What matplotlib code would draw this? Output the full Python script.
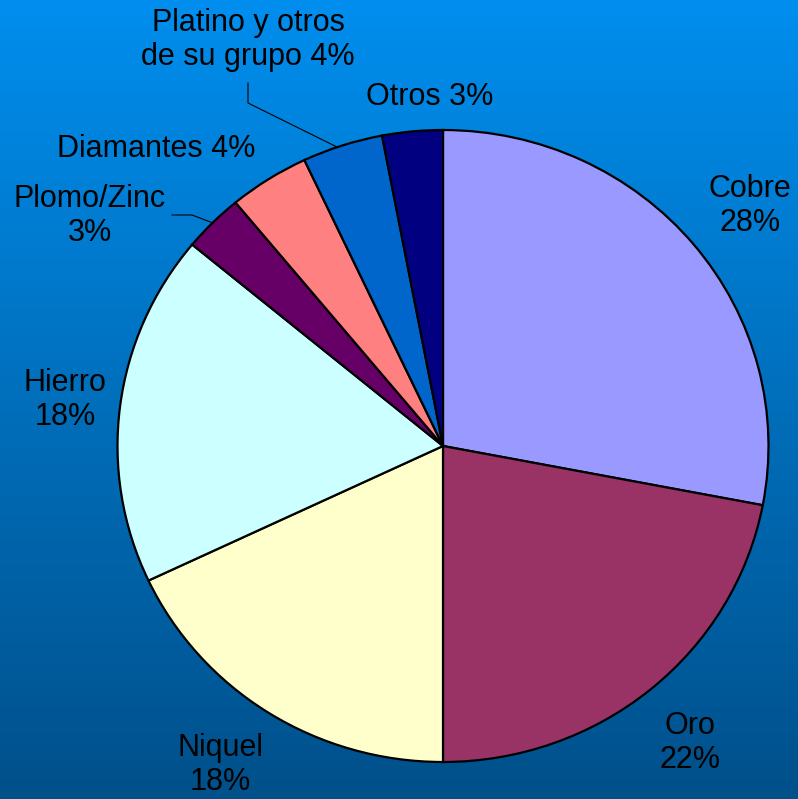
import matplotlib.pyplot as plt
import numpy as np

labels = ["Cobre\n28%", "Oro\n22%", "Niquel\n18%", "Hierro\n18%",
          "Plomo/Zinc\n3%", "Diamantes 4%", "Platino y otros\nde su grupo 4%", "Otros 3%"]
values = [28, 22, 18, 18, 3, 4, 4, 3]
colors = ["#9999FF", "#993366", "#FFFFCC", "#CCFFFF", "#660066", "#FF8080", "#0066CC", "#000080"]

# label centres in pixels (from top-left)
label_pos = [(750, 206), (690, 743), (220, 765), (65, 400),
             (90, 216), (156, 149), (248, 40), (430, 97)]

W, H = 798, 799
fig = plt.figure(figsize=(W / 100, H / 100), dpi=100)

# gradient background
bg = fig.add_axes([0, 0, 1, 1])
top = np.array([0, 142, 238]) / 255
bot = np.array([0, 80, 138]) / 255
t = np.linspace(0, 1, 256)[:, None]
grad = top + (bot - top) * t
bg.imshow(grad[:, None, :].repeat(2, axis=1), aspect="auto", extent=[0, 1, 0, 1])
bg.axis("off")

ax = fig.add_axes([0, 0, 1, 1])
ax.patch.set_alpha(0)
cx, cy = 443, 446
rx, ry = 325.5, 316

ax.pie(values, colors=colors, startangle=90, counterclock=False, radius=1,
       wedgeprops=dict(edgecolor="black", linewidth=1.6))
ax.set_aspect("auto")
ax.set_xlim(-cx / rx, (W - cx) / rx)
ax.set_ylim(-(H - cy) / ry, cy / ry)
ax.axis("off")

def px(x, y):
    return (x - cx) / rx, (cy - y) / ry

for lab, (x, y) in zip(labels, label_pos):
    ax.text(*px(x, y), lab, ha="center", va="center", fontsize=22,
            family="Liberation Sans", color="black", linespacing=1.2)

# leader lines
for pts in [[(248, 83), (248, 103), (337, 147)], [(172, 215), (192, 215), (213, 223)]]:
    xs, ys = zip(*[px(x, y) for x, y in pts])
    ax.plot(xs, ys, color="black", linewidth=0.8)

fig.savefig("out.png", dpi=100)
